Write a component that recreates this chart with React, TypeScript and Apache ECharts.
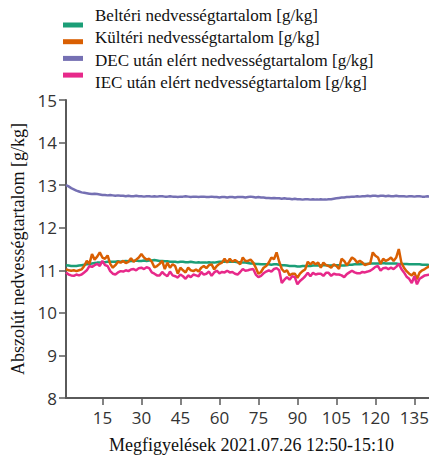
import React, { useEffect, useRef } from "react";
import * as echarts from "echarts";

const seriesNames = [
  "Beltéri nedvességtartalom [g/kg]",
  "Kültéri nedvességtartalom [g/kg]",
  "DEC után elért nedvességtartalom [g/kg]",
  "IEC után elért nedvességtartalom [g/kg]",
];
const seriesColors = ["#1b9e77", "#d95f02", "#7570b3", "#e7298a"];
const xTicks = [15, 30, 45, 60, 75, 90, 105, 120, 135];

const belteri = [
  11.12, 11.11, 11.1, 11.1, 11.1, 11.11, 11.12, 11.13, 11.14, 11.15,
  11.16, 11.17, 11.18, 11.18, 11.19, 11.19, 11.2, 11.2, 11.2, 11.2,
  11.21, 11.2, 11.21, 11.22, 11.21, 11.22, 11.22, 11.23, 11.22, 11.22,
  11.23, 11.22, 11.23, 11.23, 11.24, 11.23, 11.22, 11.22, 11.21, 11.21,
  11.2, 11.2, 11.2, 11.19, 11.2, 11.2, 11.19, 11.19, 11.2, 11.19,
  11.18, 11.19, 11.18, 11.18, 11.18, 11.19, 11.18, 11.18, 11.19, 11.2,
  11.2, 11.2, 11.21, 11.2, 11.2, 11.2, 11.19, 11.19, 11.18, 11.18,
  11.17, 11.16, 11.16, 11.15, 11.15, 11.14, 11.14, 11.14, 11.14, 11.13,
  11.14, 11.14, 11.13, 11.12, 11.12, 11.11, 11.1, 11.1, 11.1, 11.09,
  11.09, 11.1, 11.1, 11.1, 11.1, 11.11, 11.11, 11.11, 11.12, 11.12,
  11.12, 11.11, 11.11, 11.12, 11.12, 11.12, 11.11, 11.11, 11.12, 11.13,
  11.13, 11.14, 11.14, 11.14, 11.15, 11.15, 11.15, 11.16, 11.16, 11.16,
  11.16, 11.16, 11.17, 11.16, 11.16, 11.16, 11.16, 11.16, 11.15, 11.15,
  11.15, 11.15, 11.14, 11.14, 11.14, 11.14, 11.14, 11.13, 11.13, 11.13,
  11.12, 11.12, 11.12,
];

const kulteri = [
  11.03, 11.0, 10.99, 11.0, 10.98, 11.0, 11.02, 11.1, 11.22, 11.15,
  11.38, 11.25, 11.32, 11.42, 11.3, 11.27, 11.35, 11.15, 11.06, 11.12,
  11.2, 11.18, 11.22, 11.17, 11.2, 11.28, 11.2, 11.25, 11.3, 11.38,
  11.3, 11.25, 11.27, 11.2, 11.07, 11.1, 11.15, 11.22, 11.03, 11.18,
  11.06, 11.14, 11.1, 10.92, 11.06, 11.0, 10.95, 11.06, 11.0, 10.98,
  11.02, 10.97, 11.06, 11.1, 11.05, 11.12, 11.14, 11.02, 11.1, 11.15,
  11.18, 11.27, 11.18, 11.27, 11.2, 11.24, 11.2, 11.14, 11.3, 11.22,
  11.22, 11.25, 11.18, 11.06, 10.92, 10.96, 11.06, 11.1, 11.18, 11.3,
  11.26, 11.42, 11.2, 11.03, 10.96, 11.0, 10.88, 10.92, 10.92, 10.82,
  10.92, 10.98, 11.02, 11.2, 11.14, 11.2, 11.14, 11.18, 11.06, 11.18,
  11.12, 11.1, 11.06, 11.14, 11.1, 11.03, 11.27, 11.22, 11.12, 11.2,
  11.3, 11.26, 11.18, 11.22, 11.18, 11.12, 11.15, 11.16, 11.42, 11.34,
  11.3, 11.15, 11.27, 11.22, 11.25, 11.3, 11.22, 11.3, 11.5, 11.18,
  11.06, 10.98, 10.92, 10.88, 10.95, 10.79, 10.95, 11.0, 11.03, 11.07,
  11.1, 11.03, 11.03,
];

const dec = [
  13.0, 12.97, 12.93, 12.9, 12.87, 12.85, 12.83, 12.82, 12.81, 12.8,
  12.79, 12.8, 12.79, 12.78, 12.77, 12.77, 12.76, 12.77, 12.76, 12.75,
  12.76, 12.75, 12.75, 12.74, 12.75, 12.74, 12.74, 12.75, 12.74, 12.74,
  12.73, 12.74, 12.74, 12.73, 12.74, 12.73, 12.74, 12.74, 12.73, 12.73,
  12.74, 12.73, 12.73, 12.72, 12.73, 12.73, 12.74, 12.73, 12.72, 12.73,
  12.73, 12.72, 12.73, 12.73, 12.72, 12.72, 12.73, 12.72, 12.72, 12.71,
  12.72, 12.72, 12.71, 12.72, 12.72, 12.71, 12.72, 12.72, 12.72, 12.71,
  12.72, 12.73, 12.72, 12.71, 12.72, 12.71, 12.71, 12.7, 12.7, 12.69,
  12.7, 12.69, 12.69, 12.68, 12.69, 12.68, 12.68, 12.67, 12.68, 12.67,
  12.67, 12.66, 12.67, 12.67, 12.66, 12.67, 12.66, 12.66, 12.67, 12.66,
  12.66, 12.67, 12.67, 12.68, 12.69, 12.7, 12.71, 12.71, 12.72, 12.72,
  12.73, 12.73, 12.74, 12.73, 12.74, 12.74, 12.75, 12.74, 12.75, 12.75,
  12.74, 12.75, 12.75, 12.74, 12.75, 12.74, 12.74, 12.75, 12.74, 12.74,
  12.74, 12.73, 12.74, 12.74, 12.73, 12.74, 12.74, 12.73, 12.73, 12.74,
  12.73, 12.73, 12.74,
];

const iec = [
  10.95, 10.9, 10.88, 10.87, 10.9, 10.88, 10.9, 10.95, 11.0, 11.1,
  11.08, 11.12, 11.15, 11.1, 11.22, 11.12, 11.1, 10.98, 10.92, 10.9,
  10.95, 10.98, 10.97, 11.0, 10.98, 11.02, 11.03, 11.0, 11.05, 11.06,
  11.03, 11.07, 11.05, 10.95, 10.92, 10.88, 10.88, 10.96, 10.9, 10.86,
  10.97, 10.88, 10.86, 10.83, 10.9, 10.86, 10.8, 10.88, 10.84, 10.9,
  10.88, 10.86, 10.96, 10.9, 10.92, 10.97, 10.87, 10.95, 10.99, 10.93,
  10.96, 10.95, 10.99, 10.95, 10.96, 10.92, 10.9, 10.96, 11.03, 10.99,
  11.0, 11.02, 11.03, 10.9, 10.84, 10.87, 10.93, 10.97, 11.0, 10.97,
  11.03, 11.05, 11.0, 10.7, 10.78, 10.84, 10.78, 10.86, 10.84, 10.67,
  10.75, 10.8, 10.86, 10.94, 10.86, 10.94, 10.9, 10.92, 10.92, 10.87,
  10.94, 10.94, 10.87, 10.92, 10.9, 10.9, 10.88, 10.84, 10.91, 10.95,
  10.99, 10.95, 10.93, 10.93, 10.96, 10.95, 10.97, 10.99, 11.03, 11.08,
  11.1, 10.99, 11.05, 11.06, 11.03, 11.06, 11.03, 11.08, 11.15, 11.03,
  10.95, 10.85, 10.8, 10.7, 10.86, 10.67, 10.8, 10.84, 10.88, 10.89,
  10.9, 10.91, 10.9,
];

const allValues = [belteri, kulteri, dec, iec];

export default function App() {
  const ref = useRef<HTMLDivElement>(null);
  useEffect(() => {
    if (!ref.current) return;
    const chart = echarts.init(ref.current, null, { renderer: "svg" });
    const axisColor = "#5a5a5a";
    const serifFamily = "'Liberation Serif', 'Times New Roman', serif";
    const tickFont = { fontFamily: "Open Sans", fontSize: 17, color: "#333333" };
    const titleText = { fontFamily: serifFamily, fontSize: 18, color: "#111111" };
    const legendText = { fontFamily: serifFamily, fontSize: 17, color: "#111111" };
    chart.setOption({
      animation: false,
      backgroundColor: "#ffffff",
      legend: [
        {
          // colour keys
          orient: "vertical",
          left: 58,
          top: 17.5,
          itemWidth: 20,
          itemHeight: 5,
          itemGap: 11.7,
          icon: "rect",
          data: seriesNames,
          formatter: () => "",
          textStyle: { fontSize: 1 },
        },
        {
          // texts
          orient: "vertical",
          left: 85,
          top: 1.5,
          itemWidth: 0,
          itemHeight: 0,
          itemGap: 5.5,
          icon: "rect",
          data: seriesNames,
          textStyle: legendText,
        },
      ],
      grid: { left: 66, right: 0, top: 100, bottom: 63 },
      xAxis: {
        type: "value",
        min: 1,
        max: 143.7,
        name: "Megfigyelések 2021.07.26 12:50-15:10",
        nameLocation: "middle",
        nameGap: 38,
        nameTextStyle: titleText,
        axisLine: { show: true, lineStyle: { color: axisColor, width: 2 } },
        axisTick: { show: true, length: 7, lineStyle: { color: axisColor, width: 1.5 }, customValues: xTicks },
        axisLabel: { ...tickFont, margin: 11, customValues: xTicks },
        splitLine: { show: false },
      },
      yAxis: {
        type: "value",
        min: 8,
        max: 15,
        interval: 1,
        name: "Abszolút nedvességtartalom [g/kg]",
        nameLocation: "middle",
        nameGap: 39,
        nameTextStyle: titleText,
        axisLine: { show: true, lineStyle: { color: axisColor, width: 2 } },
        axisTick: { show: true, length: 7, lineStyle: { color: axisColor, width: 1.5 } },
        axisLabel: { ...tickFont, margin: 9 },
        splitLine: { show: false },
      },
      series: seriesNames.map((name, k) => ({
        name,
        type: "line",
        showSymbol: false,
        symbol: "none",
        data: allValues[k].map((v, i) => [i + 1, v]),
        lineStyle: { color: seriesColors[k], width: 2.5 },
        itemStyle: { color: seriesColors[k] },
        z: k === 3 ? 4 : 2 + k * 0.1,
      })),
    });
    return () => chart.dispose();
  }, []);
  return <div ref={ref} style={{ width: 437, height: 461, marginLeft: -8, marginTop: -8 }} />;
}
